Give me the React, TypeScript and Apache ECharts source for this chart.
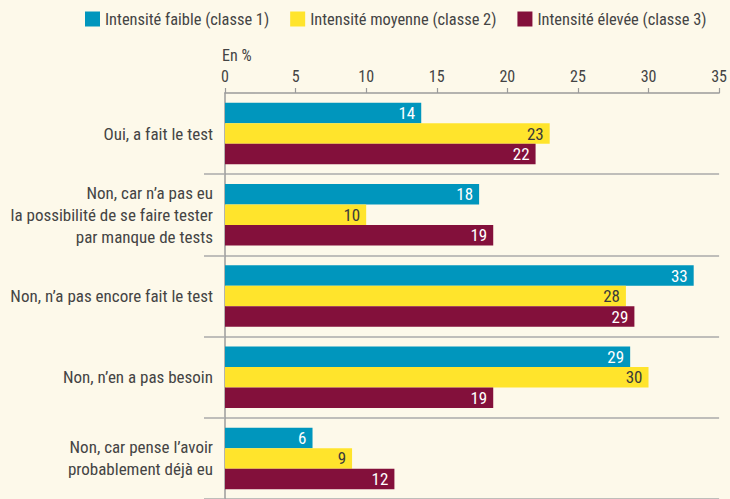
import React, { useEffect, useRef } from "react";
import * as echarts from "echarts";

const categories = [
  "Oui, a fait le test",
  "Non, car n’a pas eu\nla possibilité de se faire tester\npar manque de tests",
  "Non, n’a pas encore fait le test",
  "Non, n’en a pas besoin",
  "Non, car pense l’avoir\nprobablement déjà eu",
];
const seriesNames = [
  "Intensité faible (classe 1)",
  "Intensité moyenne (classe 2)",
  "Intensité élevée (classe 3)",
];
const faible = [13.9, 18, 33.2, 28.7, 6.2];
const moyenne = [23, 10, 28.4, 30, 9];
const elevee = [22, 19, 29, 19, 12];
const xTicks = [0, 5, 10, 15, 20, 25, 30, 35];

const COLORS = ["#0096bd", "#ffe42c", "#83103b"];
const LABEL_COLORS = ["#ffffff", "#3a3a3a", "#ffffff"];
const FONT = "'Liberation Sans Narrow', 'Roboto Condensed', 'Liberation Sans', sans-serif";

export default function App() {
  const ref = useRef<HTMLDivElement>(null);
  useEffect(() => {
    document.body.style.margin = "0";
    document.body.style.background = "#fdf9ea";
    const chart = echarts.init(ref.current!, null, { renderer: "svg" });
    const data = [faible, moyenne, elevee];
    chart.setOption({
      animation: false,
      backgroundColor: "#fdf9ea",
      textStyle: { fontFamily: FONT },
      legend: {
        left: 85,
        top: 11,
        width: 645,
        padding: 0,
        itemWidth: 15,
        itemHeight: 15,
        itemGap: 21,
        icon: "rect",
        textStyle: { fontFamily: FONT, fontSize: 16.4, color: "#444" },
        data: seriesNames,
      },
      grid: { left: 225, right: 8, top: 93, height: 410, containLabel: false },
      xAxis: {
        type: "value",
        position: "top",
        min: xTicks[0],
        max: xTicks[xTicks.length - 1],
        interval: 5,
        name: "En %",
        nameLocation: "start",
        nameGap: 0,
        nameTextStyle: {
          fontFamily: FONT,
          fontSize: 16,
          color: "#444",
          align: "left",
          verticalAlign: "bottom",
          padding: [0, 0, 30, -3],
        },
        axisLine: { show: true, lineStyle: { color: "#9b9b9b", width: 1.5 } },
        axisTick: { show: true, length: 5, lineStyle: { color: "#9b9b9b", width: 1.2 } },
        axisLabel: { fontFamily: FONT, fontSize: 16, color: "#444", margin: 9 },
        splitLine: { show: false },
      },
      yAxis: {
        type: "category",
        inverse: true,
        data: categories,
        axisLine: { show: true, lineStyle: { color: "#9b9b9b", width: 1.5 } },
        axisTick: {
          show: true,
          length: 21,
          interval: (i: number) => i !== 0,
          lineStyle: { color: "#aaaaaa", width: 1.5 },
        },
        splitLine: {
          show: true,
          interval: (i: number) => i !== 0,
          lineStyle: { color: "#aaaaaa", width: 1.5 },
        },
        axisLabel: {
          fontFamily: FONT,
          fontSize: 17,
          color: "#444",
          margin: 12,
          lineHeight: 22,
          align: "right",
        },
      },
      series: data.map((d, k) => ({
        name: seriesNames[k],
        type: "bar",
        data: d,
        barWidth: 20.5,
        barGap: "0%",
        itemStyle: { color: COLORS[k] },
        label: {
          show: true,
          position: "insideRight",
          distance: 6,
          fontFamily: FONT,
          fontSize: 17,
          color: LABEL_COLORS[k],
          formatter: (p: any) => String(Math.round(p.value)),
        },
      })),
    });
    return () => chart.dispose();
  }, []);
  return <div ref={ref} style={{ width: 730, height: 499 }} />;
}
